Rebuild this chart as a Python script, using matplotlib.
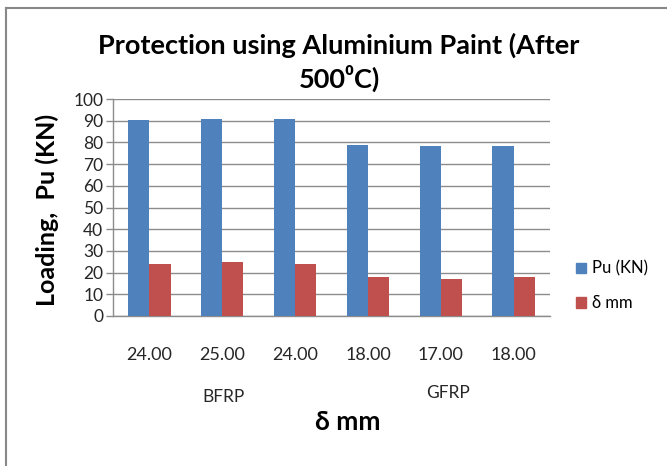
import matplotlib
matplotlib.use("Agg")
import matplotlib.pyplot as plt
import numpy as np
from matplotlib.lines import Line2D
from matplotlib.patches import Patch

categories = ["24.00", "25.00", "24.00", "18.00", "17.00", "18.00"]
groups = ["BFRP", "GFRP"]
pu_kn = [90.3, 90.8, 90.8, 78.8, 78.3, 78.3]
delta_mm = [24, 25, 24, 18, 17, 18]
y_ticks = list(range(0, 101, 10))

plt.rcParams['font.family'] = ['Lato', 'DejaVu Sans']

blue = "#4F81BD"
red = "#C0504D"
grid_c = "#8C8C8C"
txt_c = "#262626"

fig = plt.figure(figsize=(6.67, 4.66), dpi=100)
ax = fig.add_axes([113/667, 1-316/466, 437/667, 217/466])

x = np.arange(len(categories))
w = 0.29
ax.bar(x - w/2, pu_kn, w, color=blue, label="Pu (KN)", zorder=3)
ax.bar(x + w/2, delta_mm, w, color=red, label="δ mm", zorder=3)

ax.set_xlim(-0.5, len(categories) - 0.5)
ax.set_ylim(0, 100)
ax.set_yticks(y_ticks)
ax.set_yticklabels([str(v) for v in y_ticks], fontsize=12.5, color=txt_c)
ax.set_xticks(x)
ax.set_xticklabels(categories, fontsize=13, color=txt_c)
ax.tick_params(axis='x', length=0, pad=22)
ax.tick_params(axis='y', length=5, color=grid_c, width=1, pad=2)
ax.yaxis.grid(True, color=grid_c, linewidth=1, zorder=0)
for s in ["top", "right"]:
    ax.spines[s].set_visible(False)
for s in ["left", "bottom"]:
    ax.spines[s].set_color(grid_c)
    ax.spines[s].set_linewidth(1)

# group labels
ax.text(1.02, -0.375, groups[0], transform=ax.get_xaxis_transform(), ha='center', va='center', fontsize=12.5, color=txt_c)
ax.text(4.1, -0.355, groups[1], transform=ax.get_xaxis_transform(), ha='center', va='center', fontsize=12.5, color=txt_c)

fig.text(348/667, 1-422/466, "δ mm", ha='center', va='center', fontsize=19, fontweight='bold')
fig.text(47/667, 1-210/466, "Loading,  Pu (KN)", ha='center', va='center', rotation=90, fontsize=18, fontweight='bold')
fig.text(339/667, 1-45/466, "Protection using Aluminium Paint (After", ha='center', va='center', fontsize=19.5, fontweight='bold')
fig.text(339/667, 1-78/466, "500⁰C)", ha='center', va='center', fontsize=19.5, fontweight='bold')

handles = [Patch(color=blue), Patch(color=red)]
leg = fig.legend(handles, ["Pu (KN)", "δ mm"], loc='center left', bbox_to_anchor=(576/667, 1-286/466),
                 frameon=False, fontsize=12, handlelength=0.6, handleheight=0.6, handletextpad=0.35, labelspacing=1.1,
                 borderaxespad=0, borderpad=0)

# outer border
fig.add_artist(Line2D([6/667, 6/667], [0, 1-8/466], transform=fig.transFigure, color="#888888", linewidth=1.5))
fig.add_artist(Line2D([6/667, 1], [1-8/466, 1-8/466], transform=fig.transFigure, color="#888888", linewidth=1.5))

fig.savefig("out.png", dpi=100)
